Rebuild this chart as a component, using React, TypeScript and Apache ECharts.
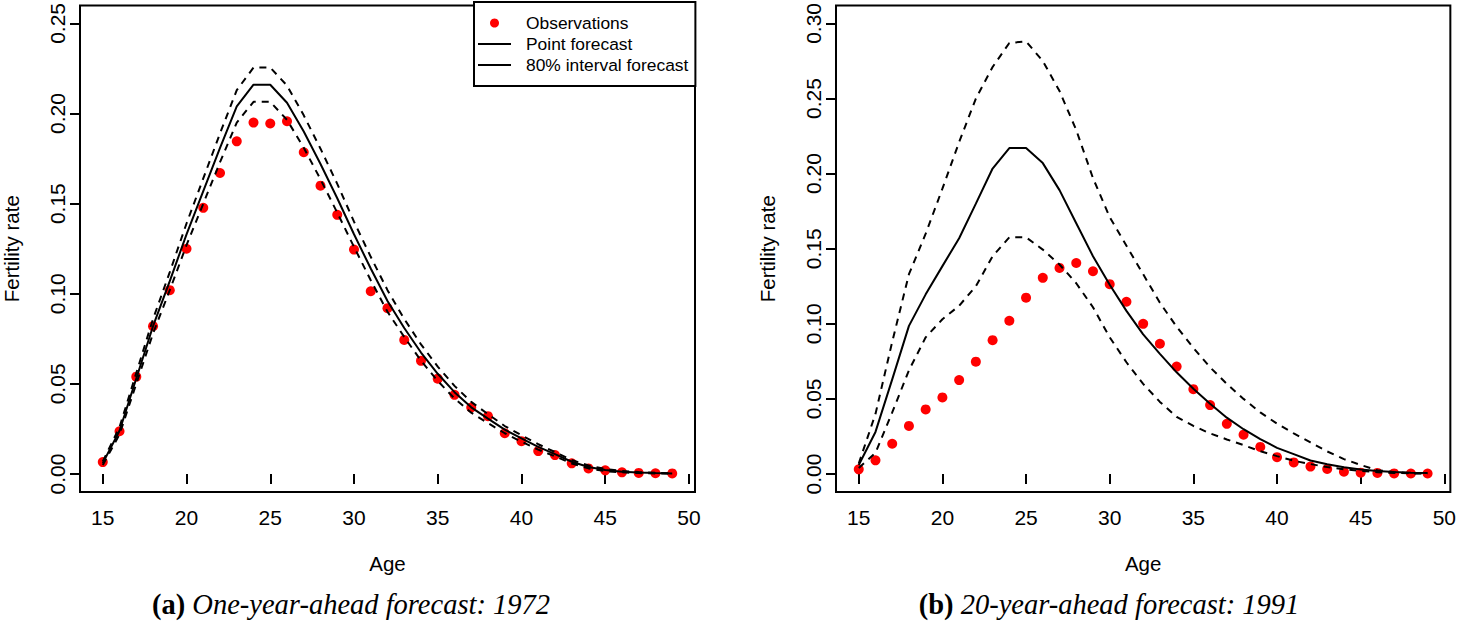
import React, { useEffect, useRef } from 'react';
import * as echarts from 'echarts';

const ages = [15, 16, 17, 18, 19, 20, 21, 22, 23, 24, 25, 26, 27, 28, 29, 30, 31, 32, 33, 34, 35, 36, 37, 38, 39, 40, 41, 42, 43, 44, 45, 46, 47, 48, 49];

// Panel (a): one-year-ahead forecast 1972
const obs1972 = [0.0066, 0.0237, 0.054, 0.082, 0.102, 0.125, 0.1477, 0.167, 0.1846, 0.195, 0.1945, 0.1957, 0.1785, 0.16, 0.1438, 0.1245, 0.1014, 0.092, 0.0744, 0.0628, 0.0529, 0.0439, 0.0369, 0.0321, 0.0226, 0.0182, 0.0127, 0.0105, 0.0059, 0.0031, 0.002, 0.0009, 0.0006, 0.0004, 0.0003];
const point1972 = [0.006, 0.024, 0.053, 0.082, 0.107, 0.133, 0.157, 0.181, 0.204, 0.216, 0.216, 0.206, 0.19, 0.172, 0.153, 0.133, 0.114, 0.096, 0.081, 0.0674, 0.0556, 0.0454, 0.037, 0.0307, 0.0246, 0.0197, 0.015, 0.011, 0.0068, 0.0039, 0.0022, 0.0013, 0.0008, 0.0005, 0.0003];
const upper1972 = [0.007, 0.026, 0.056, 0.086, 0.112, 0.139, 0.164, 0.189, 0.213, 0.2255, 0.2255, 0.2155, 0.199, 0.1805, 0.161, 0.14, 0.1205, 0.102, 0.086, 0.0719, 0.0596, 0.0489, 0.04, 0.0332, 0.0266, 0.0215, 0.0165, 0.0122, 0.0078, 0.0047, 0.0028, 0.0017, 0.0011, 0.0007, 0.0004];
const lower1972 = [0.005, 0.022, 0.05, 0.078, 0.102, 0.127, 0.15, 0.173, 0.195, 0.2065, 0.2065, 0.1965, 0.181, 0.1635, 0.145, 0.126, 0.1075, 0.09, 0.076, 0.0629, 0.0516, 0.0419, 0.034, 0.0282, 0.0226, 0.0179, 0.0135, 0.0098, 0.0058, 0.0031, 0.0016, 0.0009, 0.0005, 0.0003, 0.0002];

// Panel (b): 20-year-ahead forecast 1991
const obs1991 = [0.0031, 0.0091, 0.0201, 0.032, 0.043, 0.051, 0.0625, 0.0748, 0.0891, 0.102, 0.1174, 0.1306, 0.1372, 0.1405, 0.135, 0.1264, 0.1147, 0.1, 0.0867, 0.0715, 0.0565, 0.0459, 0.0334, 0.0262, 0.018, 0.0112, 0.0077, 0.0049, 0.0033, 0.0015, 0.0009, 0.0007, 0.0004, 0.0003, 0.0003];
const point1991 = [0.006, 0.028, 0.063, 0.0986, 0.1196, 0.1384, 0.157, 0.18, 0.2034, 0.217, 0.217, 0.207, 0.189, 0.167, 0.145, 0.126, 0.1086, 0.093, 0.08, 0.0677, 0.0567, 0.0468, 0.0375, 0.0298, 0.0232, 0.0174, 0.0132, 0.009, 0.0065, 0.0045, 0.003, 0.002, 0.0013, 0.0009, 0.0006];
const upper1991 = [0.007, 0.04, 0.088, 0.133, 0.16, 0.19, 0.221, 0.25, 0.271, 0.287, 0.288, 0.275, 0.255, 0.229, 0.197, 0.171, 0.152, 0.133, 0.114, 0.098, 0.084, 0.071, 0.06, 0.05, 0.041, 0.0335, 0.027, 0.021, 0.015, 0.0099, 0.006, 0.0025, 0.0012, 0.0006, 0.0003];
const lower1991 = [0.004, 0.014, 0.041, 0.069, 0.091, 0.103, 0.112, 0.125, 0.145, 0.1576, 0.1576, 0.1494, 0.1395, 0.127, 0.111, 0.091, 0.0744, 0.06, 0.048, 0.038, 0.032, 0.027, 0.023, 0.0192, 0.0152, 0.0119, 0.0088, 0.0066, 0.0046, 0.0031, 0.002, 0.0012, 0.0007, 0.0004, 0.0003];

const xTicks = [15, 20, 25, 30, 35, 40, 45, 50];
const yTicksA = [0, 0.05, 0.1, 0.15, 0.2, 0.25];
const yTicksB = [0, 0.05, 0.1, 0.15, 0.2, 0.25, 0.3];
const legendNames = ['Observations', 'Point forecast', '80% interval forecast'];
const captionA = ['(a)', 'One-year-ahead forecast: 1972'];
const captionB = ['(b)', '20-year-ahead forecast: 1991'];
const xTitle = 'Age';
const yTitle = 'Fertility rate';

const SANS = '"Liberation Sans", Arial, Helvetica, sans-serif';
const SERIF = '"Liberation Serif", "Times New Roman", serif';
const LINE_ICON = 'path://M0,0H33V2H0Z';

function pairs(vals: number[]) {
  return ages.map((a, i) => [a, vals[i]]);
}

function makeX(gridIndex: number) {
  return {
    type: 'value',
    gridIndex,
    min: 13.64,
    max: 50.36,
    name: xTitle,
    nameLocation: 'middle',
    nameGap: 61,
    nameTextStyle: { fontFamily: SANS, fontSize: 20.5, color: '#000' },
    axisLine: { show: false },
    splitLine: { show: false },
    axisTick: { show: true, length: 10, lineStyle: { color: '#000', width: 2 }, customValues: xTicks },
    axisLabel: { show: true, customValues: xTicks, fontSize: 21, color: '#000', fontFamily: SANS, margin: 15 },
  };
}

function makeY(gridIndex: number, min: number, max: number, ticks: number[]) {
  return {
    type: 'value',
    gridIndex,
    min,
    max,
    name: yTitle,
    nameLocation: 'middle',
    nameGap: 58,
    nameRotate: 90,
    nameTextStyle: { fontFamily: SANS, fontSize: 20.5, color: '#000' },
    axisLine: { show: false },
    splitLine: { show: false },
    axisTick: { show: true, length: 10, lineStyle: { color: '#000', width: 2 }, customValues: ticks },
    axisLabel: {
      show: true,
      customValues: ticks,
      rotate: 90,
      fontSize: 21,
      color: '#000',
      fontFamily: SANS,
      margin: 12,
      formatter: (v: number) => v.toFixed(2),
    },
  };
}

function panelSeries(idx: number, obs: number[], point: number[], lower: number[], upper: number[]) {
  const lineBase = {
    type: 'line',
    xAxisIndex: idx,
    yAxisIndex: idx,
    symbol: 'none',
    showSymbol: false,
    z: 3,
    silent: true,
  };
  return [
    {
      type: 'scatter',
      name: legendNames[0],
      xAxisIndex: idx,
      yAxisIndex: idx,
      data: pairs(obs),
      symbol: 'circle',
      symbolSize: 10,
      itemStyle: { color: '#ff0000', opacity: 1 },
      z: 2,
    },
    { ...lineBase, name: legendNames[1], data: pairs(point), lineStyle: { color: '#000', width: 2, type: 'solid' }, itemStyle: { color: '#000' } },
    { ...lineBase, name: legendNames[2], data: pairs(upper), lineStyle: { color: '#000', width: 2, type: [7, 6] }, itemStyle: { color: '#000' } },
    { ...lineBase, name: legendNames[2], data: pairs(lower), lineStyle: { color: '#000', width: 2, type: [7, 6] }, itemStyle: { color: '#000' } },
  ];
}

function caption(c: string[], x: number) {
  return {
    type: 'text',
    x,
    y: 604,
    style: {
      text: `{b|${c[0]}} {i|${c[1]}}`,
      align: 'center',
      verticalAlign: 'middle',
      fontFamily: SERIF,
      fontSize: 28.5,
      fill: '#000',
      rich: {
        b: { fontFamily: SERIF, fontWeight: 'bold', fontSize: 28.5, fill: '#000' },
        i: { fontFamily: SERIF, fontStyle: 'italic', fontSize: 28.5, fill: '#000' },
      },
    },
  };
}

export default function App() {
  const ref = useRef<HTMLDivElement>(null);
  useEffect(() => {
    if (!ref.current) return;
    const chart = echarts.init(ref.current, null, { renderer: 'svg' });
    chart.setOption({
      animation: false,
      backgroundColor: '#fff',
      grid: [
        { left: 78, top: 2, width: 617, height: 490, show: true, borderColor: '#000', borderWidth: 2, backgroundColor: 'transparent' },
        { left: 836, top: 2, width: 617, height: 490, show: true, borderColor: '#000', borderWidth: 2, backgroundColor: 'transparent' },
      ],
      xAxis: [makeX(0), makeX(1)],
      yAxis: [makeY(0, -0.01, 0.26, yTicksA), makeY(1, -0.012, 0.312, yTicksB)],
      legend: {
        left: 474,
        top: 2,
        orient: 'vertical',
        data: [
          { name: legendNames[0], icon: 'circle' },
          { name: legendNames[1], icon: LINE_ICON },
          { name: legendNames[2], icon: LINE_ICON },
        ],
        itemWidth: 33,
        itemHeight: 9,
        itemGap: 3,
        padding: [12, 7, 12, 4],
        borderColor: '#000',
        borderWidth: 2,
        borderRadius: 0,
        backgroundColor: '#fff',
        selectedMode: false,
        itemStyle: { borderWidth: 0 },
        textStyle: { fontFamily: SANS, fontSize: 17.4, color: '#000', lineHeight: 18, padding: [0, 0, 0, 10] },
      },
      graphic: [caption(captionA, 351), caption(captionB, 1109)],
      series: [
        ...panelSeries(0, obs1972, point1972, lower1972, upper1972),
        ...panelSeries(1, obs1991, point1991, lower1991, upper1991),
      ],
    });
    return () => chart.dispose();
  }, []);
  return <div ref={ref} style={{ position: 'absolute', left: 0, top: 0, width: 1459, height: 623, background: '#fff' }} />;
}
